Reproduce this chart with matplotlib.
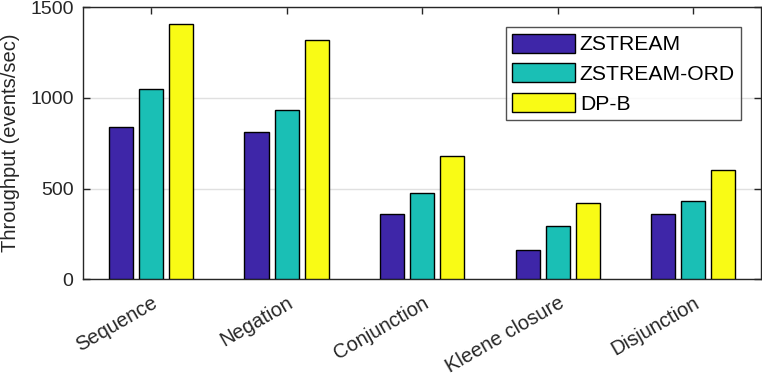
import matplotlib
matplotlib.use("Agg")
import matplotlib.pyplot as plt
import matplotlib.transforms as mtransforms
import numpy as np

categories = ["Sequence", "Negation", "Conjunction", "Kleene closure", "Disjunction"]
zstream = [838, 811, 358, 160, 358]
zstream_ord = [1048, 932, 474, 292, 430]
dp_b = [1406, 1318, 678, 419, 601]
series_names = ["ZSTREAM", "ZSTREAM-ORD", "DP-B"]
colors = ["#3e26a8", "#1abfb5", "#f9fb15"]
yticks = [0, 500, 1000, 1500]

plt.rcParams['font.family'] = ['Liberation Sans', 'DejaVu Sans']
fig = plt.figure(figsize=(7.62, 3.76), dpi=100)
ax = fig.add_axes([83.3/762, 1 - 279.3/376, (761 - 83.3)/762, (279.3 - 7)/376])

x = np.arange(1, len(categories) + 1)
off = 0.222
w = 0.178
for i, (vals, name, c) in enumerate(zip([zstream, zstream_ord, dp_b], series_names, colors)):
    ax.bar(x + (i - 1) * off, vals, width=w, color=c, edgecolor="black", linewidth=1.0,
           label=name, zorder=3)

ax.set_xlim(0.5, 5.5)
ax.set_ylim(0, 1500)
ax.set_yticks(yticks)
ax.set_yticklabels([str(t) for t in yticks])
ax.set_xticks(x)
ax.set_xticklabels(categories, rotation=30, ha="right", rotation_mode="anchor")
shift = mtransforms.ScaledTranslation(3 / 100, 0, fig.dpi_scale_trans)
for lbl in ax.get_xticklabels():
    lbl.set_transform(lbl.get_transform() + shift)
ax.yaxis.grid(True, color="#e0e0e0", linewidth=1.0, zorder=0)
ax.set_axisbelow(True)
ax.tick_params(axis="both", direction="in", top=True, right=True, length=5,
               colors="#262626", width=1.0)
ax.tick_params(axis="y", labelsize=14, pad=7)
ax.tick_params(axis="x", labelsize=14.5, pad=10)
for s in ax.spines.values():
    s.set_color("#262626")
    s.set_linewidth(1.0)
ax.set_ylabel("Throughput (events/sec)", fontsize=14.5, color="#262626", labelpad=7)

leg = ax.legend(loc="upper right", bbox_to_anchor=((741.3 - 83.3) / (761 - 83.3), (279.3 - 27.3) / (279.3 - 7)),
                fontsize=15.2, frameon=True, fancybox=False, handlelength=3.0, handleheight=1.0,
                borderpad=0.3, labelspacing=0.43, handletextpad=0.22, borderaxespad=0)
leg.get_frame().set_edgecolor("#262626")
leg.get_frame().set_linewidth(1.0)
for t in leg.get_texts():
    t.set_color("black")

fig.savefig("out.png", dpi=100)
